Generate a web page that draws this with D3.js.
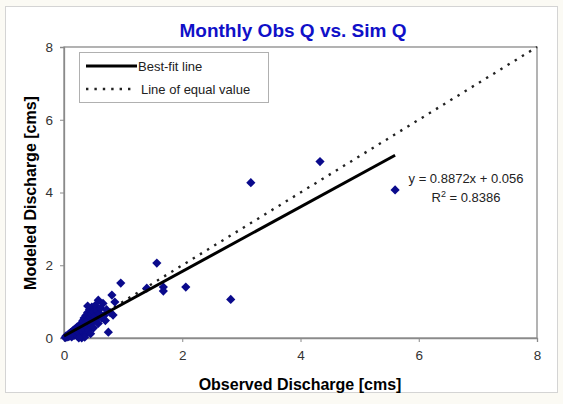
<!DOCTYPE html>
<html>
<head>
<meta charset="utf-8">
<script src="https://cdn.jsdelivr.net/npm/d3@7"></script>
<style>
  body { margin: 0; background: #fbfaf4; }
  svg { display: block; font-family: "Liberation Sans", Arial, sans-serif; }
</style>
</head>
<body>
<div id="container"></div>
<script>
(function() {

// observed vs modeled monthly discharge (cms)
let obsQ = [0.02, 0.03, 0.05, 0.06, 0.08, 0.09, 0.10, 0.11, 0.12, 0.13,
  0.14, 0.15, 0.16, 0.17, 0.18, 0.19, 0.20, 0.21, 0.22, 0.23,
  0.24, 0.25, 0.26, 0.27, 0.28, 0.29, 0.30, 0.31, 0.32, 0.33,
  0.34, 0.35, 0.36, 0.37, 0.38, 0.39, 0.40, 0.41, 0.42, 0.43,
  0.44, 0.45, 0.46, 0.47, 0.48, 0.49, 0.50, 0.52, 0.53, 0.55,
  0.56, 0.58, 0.60, 0.62, 0.64, 0.66, 0.68, 0.70, 0.72, 0.75,
  0.78, 0.58, 0.81, 0.86, 0.83, 0.96, 1.40, 1.57, 1.68, 1.68,
  2.06, 2.82, 3.16, 4.33, 5.60, 0.30, 0.35, 0.25, 0.45, 0.40];
let simQ = [0.01, 0.05, 0.02, 0.08, 0.04, 0.12, 0.06, 0.15, 0.09, 0.03,
  0.18, 0.11, 0.22, 0.07, 0.14, 0.25, 0.10, 0.19, 0.30, 0.05,
  0.16, 0.28, 0.35, 0.12, 0.22, 0.40, 0.31, 0.18, 0.48, 0.26,
  0.55, 0.36, 0.08, 0.62, 0.42, 0.30, 0.70, 0.50, 0.21, 0.78,
  0.58, 0.38, 0.66, 0.85, 0.46, 0.72, 0.28, 0.60, 0.90, 0.52,
  0.75, 0.40, 0.68, 0.82, 0.55, 0.95, 0.62, 0.48, 0.78, 0.16,
  0.70, 1.04, 1.18, 0.99, 0.63, 1.51, 1.37, 2.06, 1.40, 1.29,
  1.40, 1.06, 4.27, 4.85, 4.07, 0.00, 0.02, 0.00, 0.12, 0.88];

let fitSlope = 0.8872;
let fitIntercept = 0.056;
let fitRange = [0, 5.6];
let ticks = [0, 2, 4, 6, 8];
let legendLabels = ["Best-fit line", "Line of equal value"];

let width = 563, height = 404;
let margin = { left: 64, right: 26, top: 47, bottom: 66 };

let svg = d3.select("#container").append("svg")
  .attr("width", width)
  .attr("height", height);

// chart area frame
svg.append("rect")
  .attr("x", 5.5).attr("y", 6.5)
  .attr("width", 552).attr("height", 386)
  .attr("fill", "#fff")
  .attr("stroke", "#d4d4d4");

let x = d3.scaleLinear().domain([0, 8]).range([margin.left, width - margin.right]);
let y = d3.scaleLinear().domain([0, 8]).range([height - margin.bottom, margin.top]);

// plot border
svg.append("rect")
  .attr("x", x(0)).attr("y", y(8))
  .attr("width", x(8) - x(0)).attr("height", y(0) - y(8))
  .attr("fill", "none")
  .attr("stroke", "#8a8a8a")
  .attr("stroke-width", 1.3);

let xAxis = svg.append("g")
  .attr("transform", "translate(0," + y(0) + ")")
  .call(d3.axisBottom(x).tickValues(ticks).tickSize(4).tickPadding(8));
let yAxis = svg.append("g")
  .attr("transform", "translate(" + x(0) + ",0)")
  .call(d3.axisLeft(y).tickValues(ticks).tickSize(4).tickPadding(7));
[xAxis, yAxis].forEach((g) => {
  g.select(".domain").attr("stroke", "#8a8a8a").attr("stroke-width", 1.3);
  g.selectAll(".tick line").attr("stroke", "#8a8a8a");
  g.selectAll(".tick text")
    .attr("fill", "#333")
    .style("font-size", "13.5px")
    .style("font-family", "Liberation Sans, Arial, sans-serif");
});

// line of equal value
svg.append("line")
  .attr("x1", x(0)).attr("y1", y(0))
  .attr("x2", x(8)).attr("y2", y(8))
  .attr("stroke", "#222")
  .attr("stroke-width", 2.4)
  .attr("stroke-dasharray", "2.4,6");

// points
let diamond = d3.symbol().type(d3.symbolDiamond2).size(54);
svg.append("g")
  .selectAll("path")
  .data(obsQ)
  .enter()
  .append("path")
    .attr("d", diamond)
    .attr("transform", (d, i) => "translate(" + x(d) + "," + y(simQ[i]) + ")")
    .attr("fill", "#0a0a8c");

// best-fit line
svg.append("line")
  .attr("x1", x(fitRange[0])).attr("y1", y(fitSlope * fitRange[0] + fitIntercept))
  .attr("x2", x(fitRange[1])).attr("y2", y(fitSlope * fitRange[1] + fitIntercept))
  .attr("stroke", "#000")
  .attr("stroke-width", 3);

// equation text
let eq = svg.append("g").style("font-size", "13px").attr("fill", "#222");
eq.append("text")
  .attr("x", 466).attr("y", 183)
  .attr("text-anchor", "middle")
  .text("y = " + fitSlope + "x + " + fitIntercept);
let r2 = eq.append("text")
  .attr("x", 466).attr("y", 202)
  .attr("text-anchor", "middle");
r2.append("tspan").text("R");
r2.append("tspan").attr("dy", -5).style("font-size", "9px").text("2");
r2.append("tspan").attr("dy", 5).text(" = 0.8386");

// legend
let legend = svg.append("g");
legend.append("rect")
  .attr("x", 79.5).attr("y", 52.5)
  .attr("width", 189).attr("height", 50)
  .attr("fill", "#fff")
  .attr("stroke", "#b0b0b0");
legend.append("line")
  .attr("x1", 86).attr("x2", 137).attr("y1", 66).attr("y2", 66)
  .attr("stroke", "#000").attr("stroke-width", 3);
legend.append("line")
  .attr("x1", 86).attr("x2", 135).attr("y1", 89).attr("y2", 89)
  .attr("stroke", "#222").attr("stroke-width", 2.4)
  .attr("stroke-dasharray", "2.4,6");
legend.selectAll("text")
  .data(legendLabels)
  .enter()
  .append("text")
    .attr("x", (d, i) => i == 0 ? 138 : 141)
    .attr("y", (d, i) => 71 + i * 23)
    .style("font-size", "13px")
    .attr("fill", "#222")
    .text((d) => d);

// titles
svg.append("text")
  .attr("x", 293).attr("y", 37)
  .attr("text-anchor", "middle")
  .style("font-size", "19px")
  .style("font-weight", "bold")
  .attr("fill", "#1010c8")
  .text("Monthly Obs Q vs. Sim Q");
svg.append("text")
  .attr("x", 300).attr("y", 390)
  .attr("text-anchor", "middle")
  .style("font-size", "16px")
  .style("font-weight", "bold")
  .text("Observed Discharge [cms]");
svg.append("text")
  .attr("transform", "translate(36,193) rotate(-90)")
  .attr("text-anchor", "middle")
  .style("font-size", "16px")
  .style("font-weight", "bold")
  .text("Modeled Discharge [cms]");

})();
</script>
</body>
</html>
